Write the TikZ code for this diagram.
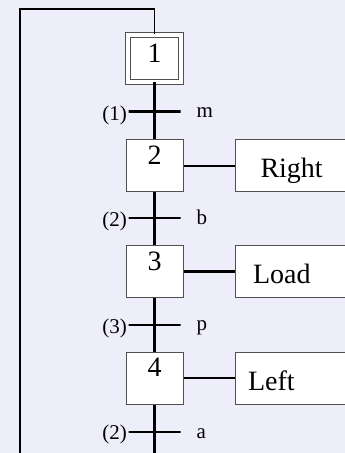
\documentclass[tikz,border=0pt]{standalone}
\usepackage{fontspec}
\setmainfont{Liberation Serif}
\definecolor{backcol}{RGB}{238,238,250}
\definecolor{boxline}{RGB}{80,80,80}

\begin{document}
\begin{tikzpicture}[x=1pt,y=-1pt,
   stepbox/.style={draw=boxline,line width=1pt,fill=white,inner sep=0pt,
      minimum width=57pt,minimum height=52pt,text height=19.5pt,
      text depth=22.5pt,font=\fontsize{28}{32}\selectfont},
   initstep/.style={stepbox,double,double distance=4pt,minimum width=53.5pt,
      minimum height=46.7pt,text depth=11.5pt},
   trans/.style={draw,line width=2.4pt,inner sep=0pt,minimum width=52pt,
      minimum height=0pt},
   act/.style={draw=boxline,line width=1pt,fill=white,anchor=west,
      minimum height=52pt,text width=100pt,align=left,text height=24pt,
      text depth=0pt,font=\fontsize{28}{32}\selectfont},
   cond/.style={inner sep=0pt,font=\fontsize{21}{24}\selectfont},
   link/.style={line width=2.4pt},
   actlink/.style={line width=2.2pt},
   back/.style={line width=1.6pt}]

   \useasboundingbox (0,0) rectangle (345,453);
   \clip (0,0) rectangle (345,453);
   \fill[backcol] (0,0) rectangle (345,453);

   \coordinate (bot) at (154.5,475);
   \coordinate (botleft) at (20,475);
   \coordinate (topleft) at (20,9);

   \node[initstep] (s1) at (154.5,58.3) {1};
   \node[stepbox] (s2) at (154.5,165.8) {2};
   \node[stepbox] (s3) at (154.5,271.5) {3};
   \node[stepbox] (s4) at (154.5,378) {4};

   \node[trans] (t1) at (154.5,111.5) {};
   \node[trans] (t2) at (154.5,218) {};
   \node[trans] (t3) at (154.5,325) {};
   \node[trans] (t4) at (154.5,432) {};

   \draw[link] (s1) -- (t1) -- (s2) -- (t2) -- (s3) -- (t3) -- (s4) -- (t4)
   -- (bot);
   \draw[back] (bot) -- (botleft) -- (topleft) -| (s1);

   \node[act,inner xsep=25pt] (a2) at (235,165.8) {Right};
   \node[act,inner xsep=17.5pt] (a3) at (235,271.5) {Load};
   \node[act,inner xsep=12.5pt] (a4) at (235,378) {Left};

   \draw[actlink] (s2) -- (a2);
   \draw[actlink] (s3) -- (a3);
   \draw[actlink] (s4) -- (a4);

   \node[cond,anchor=base east] (c1) at (127,120) {(1)};
   \node[cond,anchor=base west] (r1) at (196.5,117.5) {m};
   \node[cond,anchor=base east] (c2) at (127,226.5) {(2)};
   \node[cond,anchor=base west] (r2) at (196.5,224.5) {b};
   \node[cond,anchor=base east] (c3) at (127,333) {(3)};
   \node[cond,anchor=base west] (r3) at (196.5,330.5) {p};
   \node[cond,anchor=base east] (c4) at (127,439.5) {(2)};
   \node[cond,anchor=base west] (r4) at (196.5,438) {a};
\end{tikzpicture}
\end{document}
